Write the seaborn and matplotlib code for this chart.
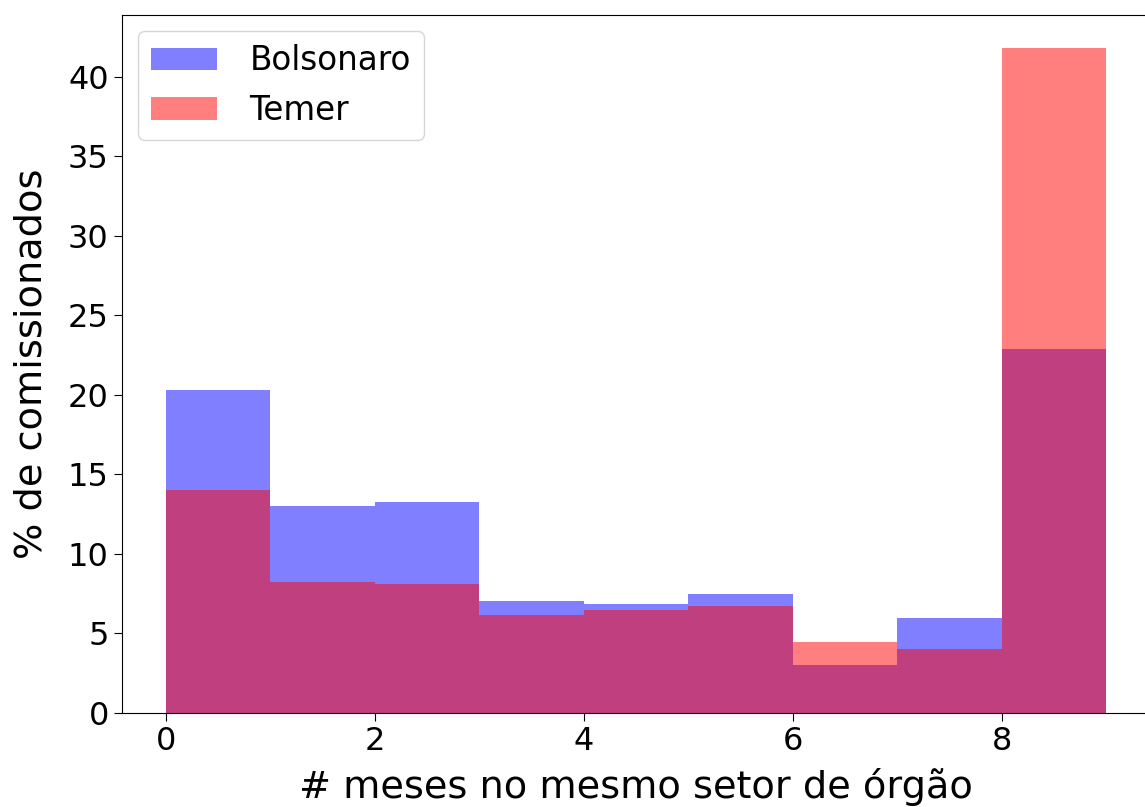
import numpy as np
import matplotlib
matplotlib.use("Agg")
import matplotlib.pyplot as plt
import seaborn as sns

# bins: months in the same sector (0..9, width 1)
bin_edges = [0, 1, 2, 3, 4, 5, 6, 7, 8, 9]
bin_left = [0, 1, 2, 3, 4, 5, 6, 7, 8]

# % de comissionados por bin
bolsonaro = [20.3, 13.0, 13.25, 7.03, 6.85, 7.47, 3.0, 5.97, 22.88]
temer = [14.05, 8.23, 8.1, 6.15, 6.47, 6.72, 4.46, 4.02, 41.8]

fig = plt.figure(figsize=(11.45, 8.07), dpi=100)
ax = fig.add_axes([122 / 1145, 1 - 713 / 807, (1150 - 122) / 1145, (713 - 15) / 807])

centers = np.array(bin_left) + 0.5
sns.histplot(x=centers, weights=bolsonaro, bins=bin_edges, color="blue",
             alpha=0.5, linewidth=0, label="Bolsonaro", ax=ax)
sns.histplot(x=centers, weights=temer, bins=bin_edges, color="red",
             alpha=0.5, linewidth=0, label="Temer", ax=ax)

ax.set_xlim(-0.42, 9.42)
ax.set_xticks([0, 2, 4, 6, 8])
ax.tick_params(labelsize=23, length=6)
ax.set_xlabel("# meses no mesmo setor de órgão", fontsize=27.5, labelpad=8)
ax.set_ylabel("% de comissionados", fontsize=27.5, labelpad=13)
ax.legend(loc="upper left", fontsize=23.5, handletextpad=1.0,
          borderaxespad=0.5)

fig.savefig("out.png", dpi=100)
